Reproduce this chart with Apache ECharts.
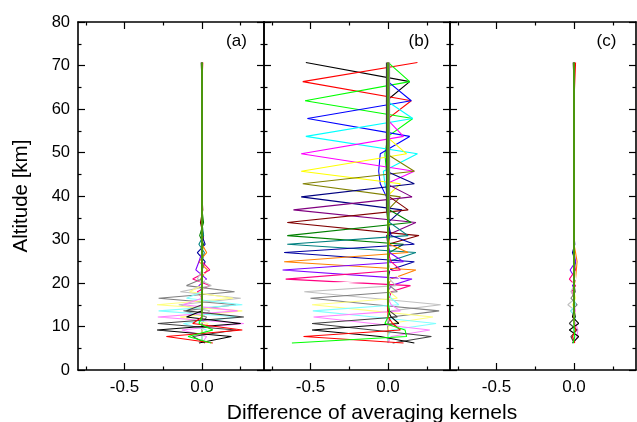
<!DOCTYPE html>
<html><head><meta charset="utf-8">
<script src="https://cdn.jsdelivr.net/npm/echarts@6/dist/echarts.min.js"></script>
<style>html,body{margin:0;padding:0;background:#fff}#c{width:637px;height:422px}</style>
</head><body><div id="c"></div>
<script>
// Altitude grid [km] shared by all kernel-difference lines
const altitudes = [70.7,66.3,61.9,57.8,53.7,49.7,45.7,42.8,39.8,36.8,33.9,30.9,28.9,27.0,24.9,23.0,20.9,19.4,18.0,16.5,15.0,13.6,12.2,10.7,9.2,7.7,6.2];
const lineColors = ['#000000','#FF0000','#00FF00','#0000FF','#00FFFF','#FF00FF','#FFFF00','#808000','#000080','#800080','#800000','#008000','#008080','#0000A0','#FF8000','#8000FF','#FF0080','#FFFFFF','#C0C0C0','#808080','#FFFF80','#80FFFF','#FF80FF','#404040','#000000','#FF0000','#00FF00'];
const panelLabels = ['(a)','(b)','(c)'];
const xMajorTicks = [-0.5, 0.0];
const xMinorTicks = [-0.75, -0.25, 0.25];
const xTitle = 'Difference of averaging kernels';
const yTitle = 'Altitude [km]';

// Panel (a): one row per line, one value per altitude level
const panelA = [
[-0.005,0,0,0,0, 0,0,0,0,0, 0,0,0,0,0, 0,0,0,0,0, 0,0,0,0,0, 0,0],
[0.005,0,0,0,0, 0,0,0,0,0, 0,0,0,0,0, 0,0,0,0,0, 0,0,0,0,0, 0,0],
[0,0,0,0,0, 0,0,0,0,0, 0,0,0,0,0, 0,0,0,0,0, 0,0,0,0,0, 0,0],
[0,0,0,0,0, 0,0,0,0,0, 0,0,0,0,0, 0,0,0,0,0, 0,0,0,0,0, 0,0],
[0,0,0,0,0, 0,0,0,0,0, 0,0,0,0,0, 0,0,0,0,0, 0,0,0,0,0, 0,0],
[0,0,0,0,0, 0,0,0,0,0, 0,0,0,0,0, 0,0,0,0,0, 0,0,0,0,0, 0,0],
[0,0,0,0,0, 0,0,0,0,0, 0,0,0,0,0, 0,0,0,0,0, 0,0,0,0,0, 0,0],
[0,0,0,0,0, 0,0,0,0,0, 0,0,0,0,0, 0,0,0,0,0, 0,0,0,0,0, 0,0],
[0,0,0,0,0, 0,0,0,0,0, 0,0,0,0,0, 0,0,0,0,0, 0,0,0,0,0, 0,0],
[0,0,0,0,0, 0,0,0,0,0, 0,0,0,0,0, 0,0,0,0,0, 0,0,0,0,0, 0,0],
[0,0,0,0,0, 0,0,0,0, 0.005,-0.01,0.01, 0,0,0,0,0, 0,0,0,0,0, 0,0,0,0,0],
[0,0,0,0,0, 0,0,0,0,0, 0.01,-0.015,0.01, 0,0,0,0,0, 0,0,0,0,0, 0,0,0,0],
[0,0,0,0,0, 0,0,0,0,0, 0, 0.01,-0.02,0.015, 0,0,0,0,0, 0,0,0,0,0, 0,0,0],
[0,0,0,0,0, 0,0,0,0,0, 0,0, 0.02,-0.03,0.02, 0,0,0,0,0, 0,0,0,0,0, 0,0],
[0,0,0,0,0, 0,0,0,0,0, 0,0,0, 0.03,-0.02,0.035,-0.01, 0,0,0,0,0, 0,0,0,0,0],
[0,0,0,0,0, 0,0,0,0,0, 0,0,0,0, -0.02,-0.04,0.03,-0.02, 0,0,0,0,0, 0,0,0,0],
[0,0,0,0,0, 0,0,0,0,0, 0,0,0,0,0, 0.05,-0.06,0.05,-0.03, 0,0,0,0,0, 0,0,0],
[0,0,0,0,0, 0,0,0,0,0, 0,0,0,0,0, -0.02,0.06,-0.10,0.12,-0.08,0.02, 0,0,0,0,0, 0],
[0,0,0,0,0, 0,0,0,0,0, 0,0,0,0,0, 0, -0.03,0.06,-0.14,0.25,-0.15,0.05, 0,0,0,0,0],
[0,0,0,0,0, 0,0,0,0,0, 0,0,0,0,0, 0,0, -0.10,0.21,-0.28,0.22,-0.12,0.03, 0,0,0,0],
[0,0,0,0,0, 0,0,0,0,0, 0,0,0,0,0, 0,0,0, -0.08,0.20,-0.29,0.26,-0.14,0.04, 0,0,0],
[0,0,0,0,0, 0,0,0,0,0, 0,0,0,0,0, 0,0,0,0, -0.10,0.26,-0.28,0.24,-0.12,0.03, 0,0],
[0,0,0,0,0, 0,0,0,0,0, 0,0,0,0,0, 0,0,0,0,0, -0.12,0.23,-0.285,0.27,-0.13,0.03, 0],
[0,0,0,0,0, 0,0,0,0,0, 0,0,0,0,0, 0,0,0,0,0, 0, -0.10,0.27,-0.285,0.22,-0.06,0.02],
[0,0,0,0,0, 0,0,0,0,0, 0,0,0,0,0, 0,0,0,0,0, 0,0, -0.10,0.25,-0.29,0.19,-0.02],
[0,0,0,0,0, 0,0,0,0,0, 0,0,0,0,0, 0,0,0,0,0, 0,0,0, -0.06,0.26,-0.23,0.07],
[0,0,0,0,0, 0,0,0,0,0, 0,0,0,0,0, 0,0,0,0,0, 0,0, 0,-0.02,0.07,-0.09,0.06]
];

// Panel (b)
const panelB = [
[-0.53,0.14,-0.01,0,0.01,0,-0.01,0,0,0.01, 0,0,0,0,0, 0,0,0,0,0, 0,0,0,0,0, 0,0],
[0.19,-0.55,0.15,0,-0.01,0.01,0,0,0.01,0,0,0.01,0,0,0,0.01, 0,0,0,0,0, 0,0,0,0,0, 0],
[0,0.14,-0.535,0.16,0,-0.02,-0.01,0.01, 0,0,0,0,0, 0,0,0,0,0, 0,0,0,0,0, 0,0,0,0],
[0,0,0.15,-0.52,0.14,-0.05,-0.06,-0.05,-0.01, 0,0,0,0,0, 0,0,0,0,0, 0,0,0,0,0, 0,0,0],
[0,0,-0.01,0.16,-0.53,0.19,-0.03,-0.02,0,0.01, 0,0,0,0,0, 0,0,0,0,0, 0,0,0,0,0, 0,0],
[0,0,0,-0.01,0.10,-0.56,0.17,-0.01,0.01, 0,0,0,0,0, 0,0,0,0,0, 0,0,0,0,0, 0,0,0],
[0,0,0,0,-0.01,0.12,-0.56,0.08,-0.01,0,0.01, 0,0,0,0,0, 0,0,0,0,0, 0,0,0,0,0, 0],
[0,0,0,0,0,-0.01,0.17,-0.55,0.08, 0,0,0,0,0, 0,0,0,0,0, 0,0,0,0,0, 0,0,0],
[0,0,0,0,0,0,-0.01,0.17,-0.56,0.09,0,0.01, 0,0,0,0,0, 0,0,0,0,0, 0,0,0,0,0],
[0,0,0,0,0,0,0,-0.01,0.155,-0.61,0.18,-0.01, 0,0,0,0,0, 0,0,0,0,0, 0,0,0,0,0],
[0,0,0,0,0, 0,0,0, 0.01,0.13,-0.65,0.20,0,0.01, 0,0,0,0,0, 0,0,0,0,0, 0,0,0],
[0,0,0,0,0, 0,0,0,0, 0.01,0.15,-0.65,0.10,0.01, 0,0,0,0,0, 0,0,0,0,0, 0,0,0],
[0,0,0,0,0, 0,0,0,0,0, 0.01,0.13,-0.65,0.18,0,0.01, 0,0,0,0,0, 0,0,0,0,0, 0],
[0,0,0,0,0, 0,0,0,0,0, 0, 0.02,0.17,-0.67,0.17,0.01, 0,0,0,0,0, 0,0,0,0,0, 0],
[0,0,0,0,0, 0,0,0,0,0, 0,0, 0.01,0.13,-0.67,0.18,0.02,0,0.01, 0,0,0,0,0, 0,0,0],
[0,0,0,0,0, 0,0,0,0,0, 0,0,0, 0.01,0.10,-0.68,0.155,0.02, 0,0,0,0,0, 0,0,0,0],
[0,0,0,0,0, 0,0,0,0,0, 0,0,0,0, 0.02,0.08,-0.66,0.145,0.02,0.01, 0,0,0,0,0, 0,0],
[0,0,0,0,0, 0,0,0,0,0, 0,0,0,0,0, 0.01,0.08,-0.60,0.15,0.01, 0,0,0,0,0, 0,0],
[0,0,0,0,0, 0,0,0,0,0, 0,0,0,0,0, 0, 0.01,0.05,-0.54,-0.10,0.34,0.02, 0,0,0,0,0],
[0.01,0.01,0.01,0.01,0.01, 0.01,0.01,0.01,0.01,0.01, 0,0,0,0,0, 0,0, 0.01,0.06,-0.50,-0.08,0.33,0.02, 0,0,0,0],
[0,0,0,0,0, 0,0,0,0,0, 0,0,0,0,0, 0,0,0, 0.01,0.06,-0.49,-0.10,0.29,0.01, 0,0,0],
[0,0,0,0,0, 0,0,0,0,0, 0,0,0,0,0, 0,0,0,0, 0.02,0.07,-0.485,-0.09,0.31,0.02, 0,0],
[0,0,0,0,0, 0,0,0,0,0, 0,0,0,0,0, 0,0,0,0,0, 0.02,0.08,-0.48,-0.10,0.27,0.02, 0],
[-0.01,-0.01,-0.01,-0.01,-0.01, -0.01,-0.01,-0.01,-0.01,-0.01, 0,0,0,0,0, 0,0,0,0,0, 0, 0.01,0.06,-0.49,-0.10,0.28,0.03],
[0,0,0,0,0, 0,0,0,0,0, 0,0,0,0,0, 0,0,0,0,0, 0,0, 0.02,0.07,-0.49,-0.05,0.17],
[0,0,0,0,0, 0,0,0,0,0, 0,0,0,0,0, 0,0,0,0,0, 0,0,0, 0.03,0.08,-0.545,0.10],
[0,0,0,0,0, 0,0,0,0,0, 0,0,0,0,0, 0,0,0,0,0, 0, 0.01,0,-0.02,0.11,0.12,-0.62]
];

// Panel (c)
const panelC = [
[-0.005,0,0,0,0, 0,0,0,0,0, 0,0,0,0,0, 0,0,0,0,0, 0,0,0,0,0, 0,0],
[0.01,0.005,0,0,0, 0,0,0,0,0, 0,0,0,0,0, 0,0,0,0,0, 0,0,0,0,0, 0,0],
[0,0,0,0,0, 0,0,0,0,0, 0,0,0,0,0, 0,0,0,0,0, 0,0,0,0,0, 0,0],
[0,0,0,0,0, 0,0,0,0,0, 0,0,0,0,0, 0,0,0,0,0, 0,0,0,0,0, 0,0],
[0,0,0,0,0, 0,0,0,0,0, 0,0,0,0,0, 0,0,0,0,0, 0,0,0,0,0, 0,0],
[0,0,0,0,0, 0,0,0,0,0, 0,0,0,0,0, 0,0,0,0,0, 0,0,0,0,0, 0,0],
[0,0,0,0,0, 0,0,0,0,0, 0,0,0,0,0, 0,0,0,0,0, 0,0,0,0,0, 0,0],
[0,0,0,0,0, 0,0,0,0,0, 0,0,0,0,0, 0,0,0,0,0, 0,0,0,0,0, 0,0],
[0,0,0,0,0, 0,0,0,0,0, 0,0,0,0,0, 0,0,0,0,0, 0,0,0,0,0, 0,0],
[0,0,0,0,0, 0,0,0,0,0, 0,0,0,0,0, 0,0,0,0,0, 0,0,0,0,0, 0,0],
[0,0,0,0,0, 0,0,0,0,0, 0,0,0,0,0, 0,0,0,0,0, 0,0,0,0,0, 0,0],
[0,0,0,0,0, 0,0,0,0,0, 0,0,0,0,0, 0,0,0,0,0, 0,0,0,0,0, 0,0],
[0,0,0,0,0, 0,0,0,0,0, 0,0,0,0,0, 0,0,0,0,0, 0,0,0,0,0, 0,0],
[0,0,0,0,0, 0,0,0,0,0, 0,0, 0.005,-0.01,0.01, 0,0,0,0,0, 0,0,0,0,0, 0,0],
[0,0,0,0,0, 0,0,0,0,0, 0,0,0, 0.01,0.02,0.015,0.01, 0,0,0,0,0, 0,0,0,0,0],
[0,0,0,0,0, 0,0,0,0,0, 0,0,0,0, 0.01,-0.025,0.01,-0.01, 0,0,0,0,0, 0,0,0,0],
[0,0,0,0,0, 0,0,0,0,0, 0,0,0,0,0, 0.01,-0.03,0.01,-0.015, 0,0,0,0,0, 0,0,0],
[0,0,0,0,0, 0,0,0,0,0, 0,0,0,0,0, 0, 0.01,-0.02,0.01, 0,0,0,0,0, 0,0,0],
[0,0,0,0,0, 0,0,0,0,0, 0,0,0,0,0, 0,0,0, -0.02,0.01,-0.04,0.01, 0,0,0,0,0],
[0,0,0,0,0, 0,0,0,0,0, 0,0,0,0,0, 0,0,0, 0.01,-0.02,0.02,-0.02,0.01, 0,0,0,0],
[0,0,0,0,0, 0,0,0,0,0, 0,0,0,0,0, 0,0,0,0, 0.01,-0.01,0.01, 0,0,0,0,0],
[0,0,0,0,0, 0,0,0,0,0, 0,0,0,0,0, 0,0,0,0,0, 0.01,-0.02,0.01, 0,0,0,0],
[0,0,0,0,0, 0,0,0,0,0, 0,0,0,0,0, 0,0,0,0,0, 0, 0.01,-0.01,0.01,0.025,0.02, 0],
[0,0,0,0,0, 0,0,0,0,0, 0,0,0,0,0, 0,0,0,0,0, 0,0, 0.01,-0.03,0.02,-0.02, 0],
[0,0,0,0,0, 0,0,0,0,0, 0,0,0,0,0, 0,0,0,0,0, 0,0, -0.01,0.03,-0.03,0.03,-0.01],
[0,0,0,0,0, 0,0,0,0,0, 0,0,0,0,0, 0,0,0,0,0, 0,0,0,0, 0.01,-0.01,0.005],
[0,0,0,0,0, 0,0,0,0,0, 0,0,0,0,0, 0,0,0,0,0, 0,0,0,0,0, 0.005,-0.005]
];

const FONT = '"Liberation Sans", Arial, sans-serif';
const chart = echarts.init(document.getElementById('c'), null, {renderer: 'canvas'});
const panels = [panelA, panelB, panelC];
const gridLefts = [78, 264, 450];
const gridW = 186, gridTop = 22, gridH = 348;
const frame = {color: '#000', width: 1.6};
const tickStyle = {color: '#000', width: 1.2};

const grid = [], xAxis = [], yAxis = [], series = [];
panels.forEach((rows, g) => {
  grid.push({left: gridLefts[g], top: gridTop, width: gridW, height: gridH, containLabel: false});
  const xb = {gridIndex: g, type: 'value', min: -0.8, max: 0.4, splitLine: {show: false}};
  ['bottom', 'top'].forEach(pos => {
    xAxis.push(Object.assign({}, xb, {position: pos,
      axisLine: {show: true, onZero: false, lineStyle: frame},
      axisTick: {show: true, inside: true, length: 7, customValues: xMajorTicks, lineStyle: tickStyle},
      axisLabel: {show: pos === 'bottom', customValues: xMajorTicks, formatter: v => v.toFixed(1),
        fontSize: 17, color: '#000', fontFamily: FONT, margin: 9}}));
    xAxis.push(Object.assign({}, xb, {position: pos,
      axisLine: {show: false, onZero: false},
      axisTick: {show: true, inside: true, length: 3.5, customValues: xMinorTicks, lineStyle: tickStyle},
      axisLabel: {show: false}}));
  });
  ['left', 'right'].forEach(pos => {
    yAxis.push({gridIndex: g, type: 'value', min: 0, max: 80, interval: 10, position: pos,
      axisLine: {show: true, onZero: false, lineStyle: frame},
      axisTick: {show: true, inside: true, length: 7, lineStyle: tickStyle},
      minorTick: {show: true, splitNumber: 2, length: 3.5, lineStyle: tickStyle},
      splitLine: {show: false}, minorSplitLine: {show: false},
      axisLabel: {show: g === 0 && pos === 'left', fontSize: 16.5, color: '#000', fontFamily: FONT, margin: 8}});
  });
  rows.forEach((row, k) => {
    series.push({type: 'line', xAxisIndex: g * 4, yAxisIndex: g * 2,
      data: row.map((v, j) => [v, altitudes[j]]),
      symbol: 'none', showSymbol: false, silent: true, animation: false,
      lineStyle: {color: lineColors[k], width: 1.1}, z: 2});
  });
});

const graphic = [
  {type: 'text', x: 21, y: 196, rotation: Math.PI / 2,
   style: {text: yTitle, font: '20.5px ' + FONT, fill: '#000', textAlign: 'center', textVerticalAlign: 'middle'}},
  {type: 'text', x: 372, y: 413,
   style: {text: xTitle, font: '21px ' + FONT, fill: '#000', textAlign: 'center', textVerticalAlign: 'middle'}}
];
const labelX = [236.5, 419, 606.5];
panelLabels.forEach((t, i) => graphic.push({type: 'text', x: labelX[i], y: 41,
  style: {text: t, font: '17px ' + FONT, fill: '#000', textAlign: 'center', textVerticalAlign: 'middle'}}));

chart.setOption({animation: false, backgroundColor: '#fff', grid, xAxis, yAxis, series, graphic});
</script></body></html>
